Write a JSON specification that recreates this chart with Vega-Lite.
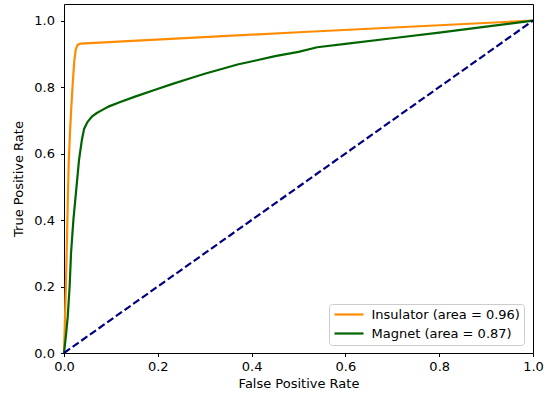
{
  "$schema": "https://vega.github.io/schema/vega-lite/v6.json",
  "width": 469,
  "height": 349,
  "autosize": "none",
  "padding": {"left": 64, "top": 4, "right": 21, "bottom": 47},
  "background": "white",
  "config": {
    "view": {"stroke": "#000000", "strokeWidth": 1},
    "font": "DejaVu Sans",
    "axis": {
      "grid": false,
      "domain": false,
      "tickColor": "#000000",
      "tickSize": 3.5,
      "tickWidth": 1,
      "labelColor": "#000000",
      "labelFont": "DejaVu Sans",
      "labelFontSize": 13,
      "labelPadding": 3.5,
      "labelFlush": false,
      "labelBound": false,
      "titleColor": "#000000",
      "titleFont": "DejaVu Sans",
      "titleFontSize": 13,
      "titleFontWeight": "normal"
    },
    "legend": {
      "labelFont": "DejaVu Sans",
      "labelFontSize": 13,
      "labelColor": "#000000"
    }
  },
  "datasets": {
    "curves": [
      {"series": "Insulator (area = 0.96)", "fpr": 0.0, "tpr": 0.0},
      {"series": "Insulator (area = 0.96)", "fpr": 0.002, "tpr": 0.1},
      {"series": "Insulator (area = 0.96)", "fpr": 0.004, "tpr": 0.2},
      {"series": "Insulator (area = 0.96)", "fpr": 0.006, "tpr": 0.32},
      {"series": "Insulator (area = 0.96)", "fpr": 0.008, "tpr": 0.45},
      {"series": "Insulator (area = 0.96)", "fpr": 0.01, "tpr": 0.57},
      {"series": "Insulator (area = 0.96)", "fpr": 0.013, "tpr": 0.67},
      {"series": "Insulator (area = 0.96)", "fpr": 0.016, "tpr": 0.75},
      {"series": "Insulator (area = 0.96)", "fpr": 0.019, "tpr": 0.82},
      {"series": "Insulator (area = 0.96)", "fpr": 0.022, "tpr": 0.88},
      {"series": "Insulator (area = 0.96)", "fpr": 0.025, "tpr": 0.913},
      {"series": "Insulator (area = 0.96)", "fpr": 0.029, "tpr": 0.927},
      {"series": "Insulator (area = 0.96)", "fpr": 0.035, "tpr": 0.931},
      {"series": "Insulator (area = 0.96)", "fpr": 0.5, "tpr": 0.965},
      {"series": "Insulator (area = 0.96)", "fpr": 1.0, "tpr": 1.0},
      {"series": "Magnet (area = 0.87)", "fpr": 0.0, "tpr": 0.0},
      {"series": "Magnet (area = 0.87)", "fpr": 0.004, "tpr": 0.05},
      {"series": "Magnet (area = 0.87)", "fpr": 0.008, "tpr": 0.11},
      {"series": "Magnet (area = 0.87)", "fpr": 0.012, "tpr": 0.2},
      {"series": "Magnet (area = 0.87)", "fpr": 0.015, "tpr": 0.3},
      {"series": "Magnet (area = 0.87)", "fpr": 0.02, "tpr": 0.4},
      {"series": "Magnet (area = 0.87)", "fpr": 0.026, "tpr": 0.49},
      {"series": "Magnet (area = 0.87)", "fpr": 0.032, "tpr": 0.58},
      {"series": "Magnet (area = 0.87)", "fpr": 0.038, "tpr": 0.64},
      {"series": "Magnet (area = 0.87)", "fpr": 0.043, "tpr": 0.675},
      {"series": "Magnet (area = 0.87)", "fpr": 0.05, "tpr": 0.695},
      {"series": "Magnet (area = 0.87)", "fpr": 0.06, "tpr": 0.712},
      {"series": "Magnet (area = 0.87)", "fpr": 0.07, "tpr": 0.722},
      {"series": "Magnet (area = 0.87)", "fpr": 0.08, "tpr": 0.73},
      {"series": "Magnet (area = 0.87)", "fpr": 0.096, "tpr": 0.742},
      {"series": "Magnet (area = 0.87)", "fpr": 0.12, "tpr": 0.755},
      {"series": "Magnet (area = 0.87)", "fpr": 0.153, "tpr": 0.772},
      {"series": "Magnet (area = 0.87)", "fpr": 0.196, "tpr": 0.793},
      {"series": "Magnet (area = 0.87)", "fpr": 0.23, "tpr": 0.809},
      {"series": "Magnet (area = 0.87)", "fpr": 0.266, "tpr": 0.825},
      {"series": "Magnet (area = 0.87)", "fpr": 0.3, "tpr": 0.84},
      {"series": "Magnet (area = 0.87)", "fpr": 0.338, "tpr": 0.855},
      {"series": "Magnet (area = 0.87)", "fpr": 0.37, "tpr": 0.868},
      {"series": "Magnet (area = 0.87)", "fpr": 0.409, "tpr": 0.88},
      {"series": "Magnet (area = 0.87)", "fpr": 0.45, "tpr": 0.893},
      {"series": "Magnet (area = 0.87)", "fpr": 0.5, "tpr": 0.906},
      {"series": "Magnet (area = 0.87)", "fpr": 0.54, "tpr": 0.92},
      {"series": "Magnet (area = 0.87)", "fpr": 0.6, "tpr": 0.93},
      {"series": "Magnet (area = 0.87)", "fpr": 0.7, "tpr": 0.947},
      {"series": "Magnet (area = 0.87)", "fpr": 0.8, "tpr": 0.964},
      {"series": "Magnet (area = 0.87)", "fpr": 0.9, "tpr": 0.982},
      {"series": "Magnet (area = 0.87)", "fpr": 1.0, "tpr": 1.0}
    ],
    "diagonal": [
      {"fpr": 0.0, "tpr": 0.0},
      {"fpr": 1.0, "tpr": 1.0}
    ]
  },
  "layer": [
    {
      "data": {"name": "curves"},
      "mark": {"type": "line", "strokeWidth": 2.2},
      "encoding": {
        "x": {
          "field": "fpr", "type": "quantitative",
          "scale": {"domain": [0, 1], "nice": false, "zero": false},
          "axis": {"title": "False Positive Rate", "values": [0, 0.2, 0.4, 0.6, 0.8, 1.0], "format": ".1f", "titlePadding": 4}
        },
        "y": {
          "field": "tpr", "type": "quantitative",
          "scale": {"domain": [0, 1.05], "nice": false, "zero": false},
          "axis": {"title": "True Positive Rate", "values": [0, 0.2, 0.4, 0.6, 0.8, 1.0], "format": ".1f", "labelPadding": 6, "titlePadding": 8}
        },
        "color": {
          "field": "series", "type": "nominal",
          "scale": {"domain": ["Insulator (area = 0.96)", "Magnet (area = 0.87)"], "range": ["#ff8c00", "#006400"]},
          "legend": {
            "title": null,
            "orient": "none",
            "legendX": 265,
            "legendY": 300,
            "fillColor": "white",
            "strokeColor": "#cccccc",
            "cornerRadius": 3,
            "padding": 4,
            "symbolType": "M-2.9,0H2.9",
            "symbolSize": 100,
            "symbolStrokeWidth": 2.2,
            "symbolOffset": 9.5,
            "labelOffset": 16,
            "rowPadding": 5
          }
        }
      }
    },
    {
      "data": {"name": "diagonal"},
      "mark": {"type": "line", "color": "#000080", "strokeWidth": 2.2, "strokeDash": [7.4, 3.2]},
      "encoding": {
        "x": {"field": "fpr", "type": "quantitative"},
        "y": {"field": "tpr", "type": "quantitative"}
      }
    }
  ]
}
